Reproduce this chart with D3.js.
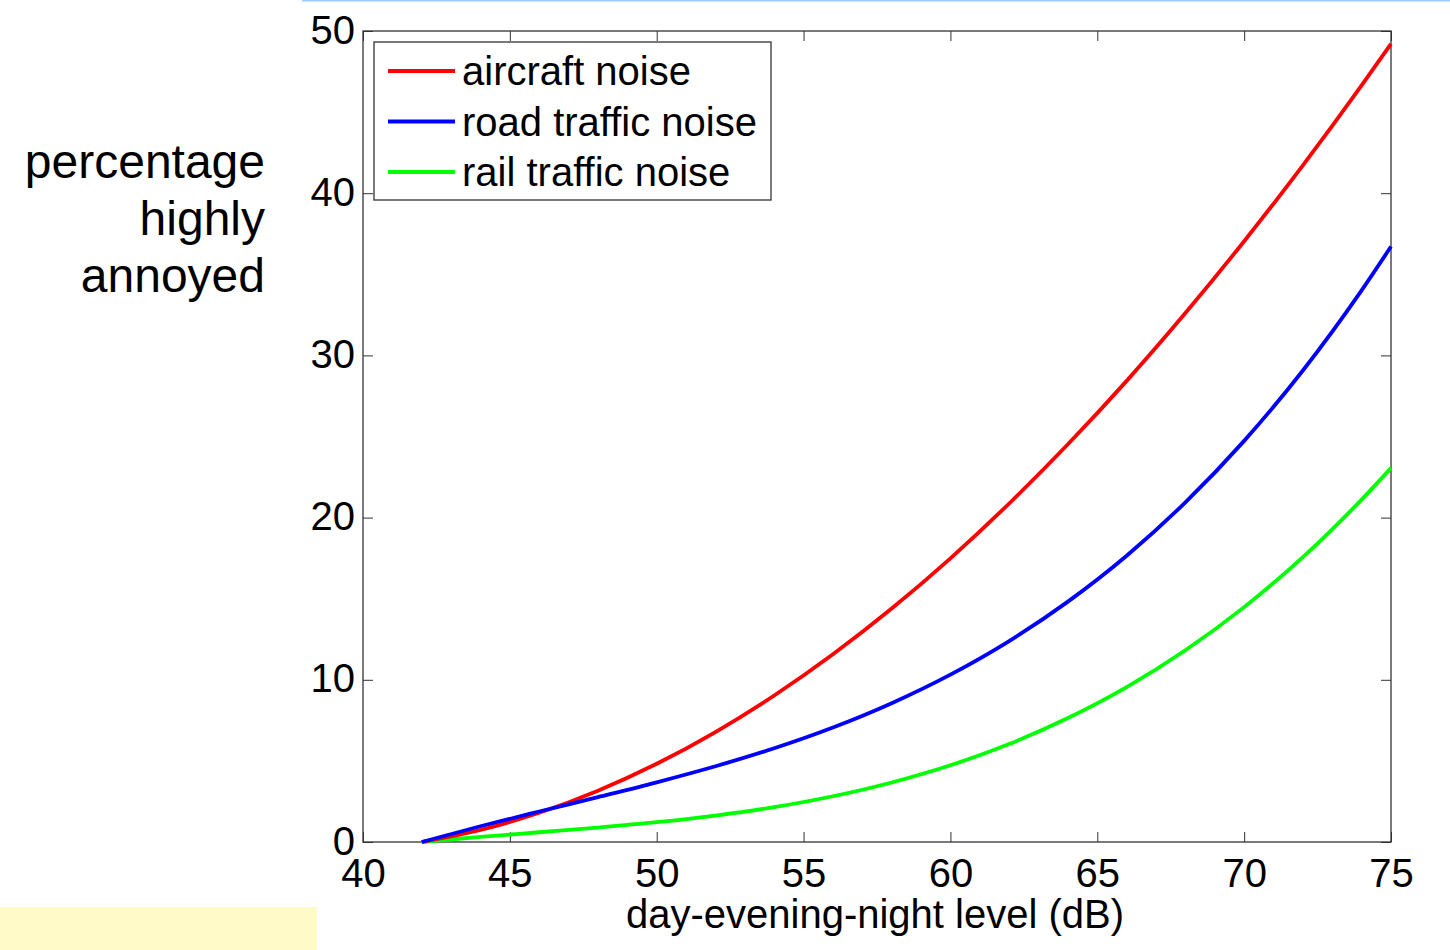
<!DOCTYPE html>
<html>
<head>
<title>Noise annoyance</title>
<script src="https://d3js.org/d3.v7.min.js"></script>
<style>
    body { margin: 0; background: white; }
    #chart text { font-family: "Liberation Sans", Arial, sans-serif; fill: black; }
    #chart .tick line { stroke: #333; }
    #chart .domain { display: none; }
</style>
</head>
<body>
<svg id="chart"></svg>
<script>
    // values (Lden in dB, % highly annoyed)
    var levels   = [42, 44, 46, 48, 50, 52, 54, 56, 58, 60, 62, 64, 66, 68, 70, 72, 74, 75];
    var aircraft = [0, 0.74, 1.80, 3.16, 4.82, 6.78, 9.03, 11.57, 14.39, 17.49, 20.87, 24.52, 28.43, 32.61, 37.04, 41.72, 46.65, 49.21];
    var road     = [0, 0.97, 1.88, 2.77, 3.68, 4.67, 5.78, 7.06, 8.56, 10.32, 12.39, 14.82, 17.65, 20.94, 24.73, 29.07, 34.01, 36.71];
    var rail     = [0, 0.31, 0.60, 0.89, 1.22, 1.63, 2.15, 2.82, 3.67, 4.73, 6.04, 7.64, 9.55, 11.82, 14.48, 17.56, 21.11, 23.05];
    var seriesNames = ["aircraft noise", "road traffic noise", "rail traffic noise"];
    var xTicks = [40, 45, 50, 55, 60, 65, 70, 75];
    var yTicks = [0, 10, 20, 30, 40, 50];

    var W = 1450, H = 950;
    var margin = {top: 31, right: 59, bottom: 108, left: 363};
    var width = W - margin.left - margin.right,
        height = H - margin.top - margin.bottom;

    var svg = d3.select("#chart").attr("width", W).attr("height", H);

    // slide decorations
    svg.append("rect").attr("x", 302).attr("y", 0).attr("width", W - 302).attr("height", 1.5)
        .style("fill", "#99ccff");
    svg.append("rect").attr("x", 0).attr("y", 907).attr("width", 317).attr("height", 43)
        .style("fill", "#fffac8");

    var g = svg.append("g").attr("transform", "translate(" + margin.left + "," + margin.top + ")");

    var x = d3.scaleLinear().domain([40, 75]).range([0, width]);
    var y = d3.scaleLinear().domain([0, 50]).range([height, 0]);

    var tl = 10;
    g.append("g").attr("class", "x axis").attr("transform", "translate(0," + height + ")")
        .call(d3.axisBottom(x).tickValues(xTicks).tickSizeInner(-tl).tickSizeOuter(0).tickPadding(17))
        .selectAll("text").style("font-size", "40px");
    g.append("g").attr("class", "x axis top")
        .call(d3.axisTop(x).tickValues(xTicks).tickSizeInner(-tl).tickSizeOuter(0).tickFormat(""));
    g.append("g").attr("class", "y axis")
        .call(d3.axisLeft(y).tickValues(yTicks).tickSizeInner(-tl).tickSizeOuter(0).tickPadding(8))
        .selectAll("text").style("font-size", "40px").attr("dy", "0.3em");
    g.append("g").attr("class", "y axis right").attr("transform", "translate(" + width + ",0)")
        .call(d3.axisRight(y).tickValues(yTicks).tickSizeInner(-tl).tickSizeOuter(0).tickFormat(""));

    g.append("rect").attr("width", width).attr("height", height)
        .style("fill", "none").style("stroke", "#333").style("stroke-width", 1.3);

    var colors = ["#ff0000", "#0000ff", "#00ff00"];
    var series = [aircraft, road, rail];
    var line = d3.line()
        .x(function (d, i) { return x(levels[i]); })
        .y(function (d) { return y(d); })
        .curve(d3.curveMonotoneX);

    // rail first, then aircraft, road on top near the crossing
    [2, 0, 1].forEach(function (k) {
        g.append("path").datum(series[k]).attr("d", line)
            .style("fill", "none").style("stroke", colors[k]).style("stroke-width", 3.8);
    });

    // legend
    var lg = svg.append("g").attr("transform", "translate(374,42)");
    lg.append("rect").attr("width", 397).attr("height", 158)
        .style("fill", "white").style("stroke", "#333").style("stroke-width", 1.3);
    seriesNames.forEach(function (name, i) {
        var yy = 29 + i * 50.5;
        lg.append("line").attr("x1", 14).attr("x2", 81).attr("y1", yy).attr("y2", yy)
            .style("stroke", colors[i]).style("stroke-width", 3.8);
        lg.append("text").attr("x", 88).attr("y", yy + 14).text(name).style("font-size", "40px");
    });

    // axis labels
    svg.append("text").attr("x", 875).attr("y", 928).attr("text-anchor", "middle")
        .style("font-size", "40px").text("day-evening-night level (dB)");
    var ylab = svg.append("text").attr("text-anchor", "end").style("font-size", "48px");
    ["percentage", "highly", "annoyed"].forEach(function (s, i) {
        ylab.append("tspan").attr("x", 265).attr("y", 178 + i * 57).text(s);
    });
</script>
</body>
</html>
